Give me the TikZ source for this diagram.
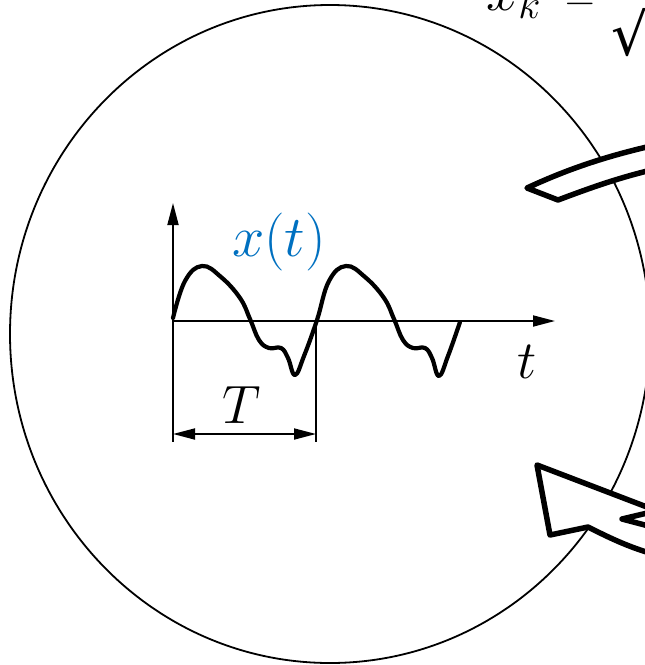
\documentclass[tikz,border=0pt]{standalone}
\usepackage{fix-cm}
\usepackage{fontspec}
\newfontfamily\radfont{DejaVu Serif}
\usetikzlibrary{arrows.meta}
\definecolor{xblue}{RGB}{0,112,192}
\tikzset{
  axisline/.style={line width=1.8pt},
  waveline/.style={line width=4.2pt, line join=round, line cap=round},
  blockarrow/.style={line width=5.5pt, fill=white, line join=round},
  bigmath/.style={inner sep=0pt, font=\fontsize{54}{58}\selectfont},
  hugemath/.style={inner sep=0pt, font=\fontsize{58}{62}\selectfont},
  eqmath/.style={inner sep=0pt, font=\fontsize{41}{45}\selectfont},
  radstyle/.style={inner sep=0pt, font=\fontsize{58}{62}\radfont},
  headtip/.style={-{Triangle[length=22pt,width=11pt]}},
  dimtips/.style={{Triangle[length=22pt,width=11pt]}-{Triangle[length=22pt,width=11pt]}}
}
\begin{document}
\begin{tikzpicture}[x=1pt,y=-1pt]
\useasboundingbox (0,0) rectangle (645,665);
\begin{scope}
\clip (0,0) rectangle (645,665);
% circle
\draw[line width=1.8pt] (330,334) ellipse [x radius=320, y radius=329];
% formula at top (partially visible)
\node[hugemath, anchor=base west] (xk) at (486,10) {$x_k$};
\node[eqmath, anchor=base] (eq) at (580,10) {$=$};
\node[radstyle, anchor=base west] (rad) at (611,55) {√};
% upper block arrow (tail)
\draw[blockarrow] (527,188) .. controls (570,168) and (610,155) .. (660,144)
  -- (660,168) .. controls (620,177) and (590,188) .. (558,200) -- cycle;
% lower block arrow
\draw[blockarrow] (660,512) -- (537,465) -- (550,535) -- (588,527)
  .. controls (610,538) and (630,548) .. (660,556) -- cycle;
\draw[line width=5.5pt, line join=round] (660,510) -- (622,519) -- (660,529);
\end{scope}
% axes
\coordinate (O) at (173,321);
\coordinate (ytop) at (173,203);
\coordinate (xend) at (555,321);
\coordinate (Tl) at (173,442);
\coordinate (Tr0) at (316,320);
\coordinate (Tr) at (316,442);
\draw[axisline, headtip] (O) -- (ytop);
\draw[axisline, headtip] (O) -- (xend);
\draw[axisline] (O) -- (Tl);
\draw[axisline] (Tr0) -- (Tr);
\coordinate (dl) at (173,434);
\coordinate (dr) at (316,434);
\draw[axisline, dimtips] (dl) -- (dr);
% waveform
\draw[waveline] plot[smooth, tension=0.7] coordinates {
 (173,318) (185,281) (202,266) (221,277) (240,298) (250,319) (259,340) (269,348)
 (281,348) (288,358) (295,375) (304,356) (317,320)
 (329,281) (346,266) (365,277) (384,298) (394,319) (403,340) (413,348)
 (425,348) (432,358) (439,376) (448,356) (460,322)};
% labels
\node[hugemath, text=xblue, anchor=base] (xt) at (279,256) {$x(t)$};
\node[bigmath, anchor=base] (Tlab) at (242,423) {$T$};
\node[bigmath, anchor=base] (tlab) at (527,378) {$t$};
\end{tikzpicture}
\end{document}
